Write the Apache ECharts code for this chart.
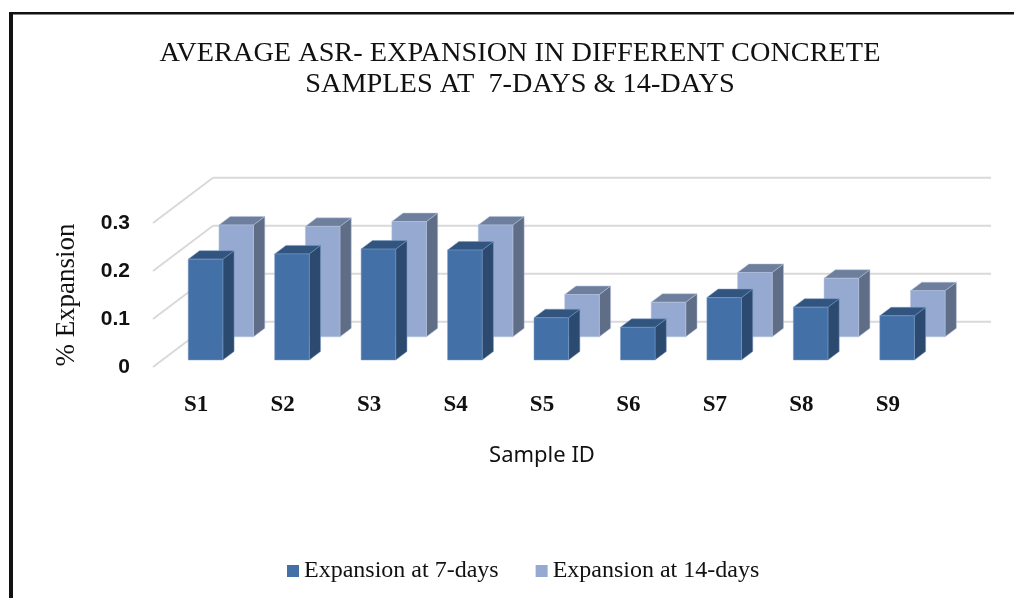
<!DOCTYPE html>
<html>
<head>
<meta charset="utf-8">
<style>
  html, body { margin: 0; padding: 0; background: #fff; }
  #chart { width: 1014px; height: 598px; }
</style>
<script src="https://cdn.jsdelivr.net/npm/echarts@6/dist/echarts.min.js"></script>
</head>
<body>
<div id="chart"></div>
<script>
const categories = ['S1', 'S2', 'S3', 'S4', 'S5', 'S6', 'S7', 'S8', 'S9']
const expansion7 = [0.21, 0.221, 0.231, 0.229, 0.088, 0.068, 0.13, 0.11, 0.092]
const expansion14 = [0.233, 0.23, 0.24, 0.233, 0.088, 0.072, 0.134, 0.122, 0.096]
const yTicks = [0, 0.1, 0.2, 0.3]

// fake 3d: how far the floor runs back, in pixels
const DEPTH_X = 60
const DEPTH_Y = 45.3
const BAR_RATIO = 0.4

const chart = echarts.init(document.getElementById('chart'))

function shift(p, d) {
  return [p[0] + DEPTH_X * d, p[1] - DEPTH_Y * d]
}

function barItem(near, far, colors) {
  return function(params, api) {
    const i = api.value(0)
    const w = api.size([1, 0])[0] * BAR_RATIO
    const top = api.coord([i, api.value(1)])
    const base = api.coord([i, 0])
    const l = top[0] - w / 2
    const r = top[0] + w / 2
    const a = shift([l, base[1]], near)
    const b = shift([r, base[1]], near)
    const c = shift([r, top[1]], near)
    const e = shift([l, top[1]], near)
    const bf = shift([r, base[1]], far)
    const cf = shift([r, top[1]], far)
    const ef = shift([l, top[1]], far)
    const poly = (points, fill) => ({
      type: 'polygon',
      shape: { points },
      style: { fill, stroke: colors.edge, lineWidth: 0.5 }
    })
    return {
      type: 'group',
      children: [
        poly([b, bf, cf, c], colors.side),
        poly([e, c, cf, ef], colors.top),
        poly([a, b, c, e], colors.face)
      ]
    }
  }
}

function wallLines(params, api) {
  const y = api.coord([0, api.value(1)])[1]
  const x0 = params.coordSys.x
  const x1 = x0 + params.coordSys.width
  const back0 = shift([x0, y], 1)
  const back1 = shift([x1, y], 1)
  const style = { stroke: '#d9d9d9', lineWidth: 2, fill: 'none' }
  return {
    type: 'group',
    children: [
      { type: 'line', shape: { x1: x0, y1: y, x2: back0[0], y2: back0[1] }, style },
      { type: 'line', shape: { x1: back0[0], y1: back0[1], x2: back1[0], y2: back1[1] }, style }
    ]
  }
}

const option = {
  animation: false,
  backgroundColor: '#fff',
  textStyle: { fontFamily: 'Liberation Serif' },
  graphic: [
    { type: 'rect', shape: { x: 9, y: 12, width: 1005, height: 2.5 }, style: { fill: '#111' } },
    { type: 'rect', shape: { x: 9, y: 12, width: 4, height: 586 }, style: { fill: '#111' } }
  ],
  title: {
    text: 'AVERAGE ASR- EXPANSION IN DIFFERENT CONCRETE\nSAMPLES AT  7-DAYS & 14-DAYS',
    left: 515,
    top: 33,
    textAlign: 'center',
    textStyle: {
      fontFamily: 'Liberation Serif',
      fontWeight: 'normal',
      fontSize: 28.3,
      lineHeight: 31,
      color: '#111'
    }
  },
  legend: {
    data: ['Expansion at 7-days', 'Expansion at 14-days'],
    left: 282,
    top: 554,
    icon: 'rect',
    itemWidth: 12,
    itemHeight: 12,
    itemGap: 37,
    itemStyle: { borderWidth: 0 },
    textStyle: { fontFamily: 'Liberation Serif', fontSize: 24, color: '#111' }
  },
  grid: { left: 153, top: 223, width: 778, height: 144 },
  xAxis: {
    type: 'category',
    data: categories,
    name: 'Sample ID',
    nameLocation: 'middle',
    nameGap: 78,
    nameTextStyle: { fontFamily: 'Noto Sans', fontSize: 22, color: '#111' },
    axisLine: { show: false },
    axisTick: { show: false },
    axisLabel: {
      interval: 0,
      margin: 27,
      fontFamily: 'Liberation Serif',
      fontWeight: 'bold',
      fontSize: 23,
      color: '#111'
    }
  },
  yAxis: {
    type: 'value',
    min: 0,
    max: 0.3,
    interval: 0.1,
    name: '% Expansion',
    nameLocation: 'middle',
    nameGap: 73,
    nameTextStyle: { fontFamily: 'Liberation Serif', fontSize: 27, color: '#111' },
    axisLine: { show: false },
    axisTick: { show: false },
    splitLine: { show: false },
    axisLabel: {
      margin: 23,
      padding: [2, 0, 0, 0],
      fontFamily: 'Liberation Sans',
      fontWeight: 'bold',
      fontSize: 21,
      color: '#111'
    }
  },
  series: [
    {
      name: 'walls',
      type: 'custom',
      silent: true,
      z: 1,
      encode: { x: 0, y: 1 },
      data: yTicks.map(v => [0, v]),
      renderItem: wallLines
    },
    {
      name: 'Expansion at 14-days',
      type: 'custom',
      z: 2,
      encode: { x: 0, y: 1 },
      itemStyle: { color: '#95a9d1' },
      data: expansion14.map((v, i) => [i, v]),
      renderItem: barItem(0.667, 0.855, { face: '#95a9d1', side: '#5f6d87', top: '#6e7f9e', edge: '#b4c3df' })
    },
    {
      name: 'Expansion at 7-days',
      type: 'custom',
      z: 3,
      encode: { x: 0, y: 1 },
      itemStyle: { color: '#4470a8' },
      data: expansion7.map((v, i) => [i, v]),
      renderItem: barItem(0.155, 0.343, { face: '#4470a8', side: '#2c4a70', top: '#31557f', edge: '#7a9cc6' })
    }
  ]
}

chart.setOption(option)
</script>
</body>
</html>
